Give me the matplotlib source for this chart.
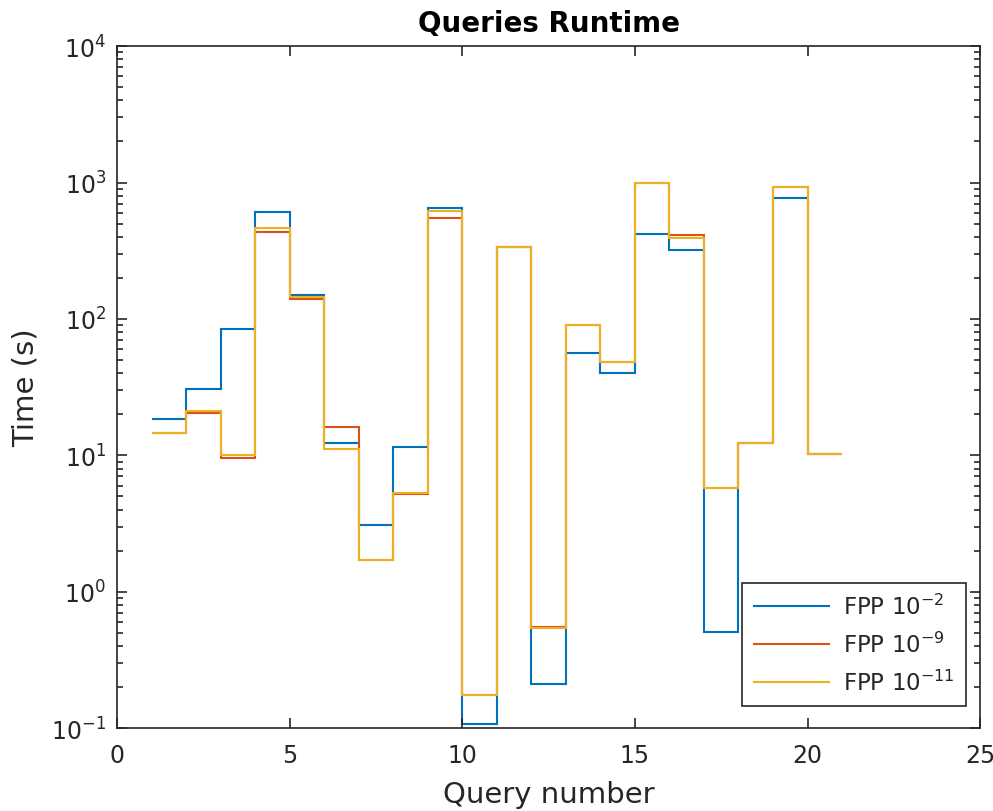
import matplotlib
matplotlib.use("Agg")
import matplotlib.pyplot as plt
import numpy as np

# query numbers (step edges) and runtimes in seconds
edges = np.arange(1, 22)
fpp_2 = [18.5, 30.6, 83.7, 609, 151, 12.3, 3.1, 11.6, 647, 0.108,
         335, 0.212, 56, 40, 422, 322, 0.508, 12.3, 767, 10.2]
fpp_9 = [14.5, 20.6, 9.5, 437, 140, 16.2, 1.7, 5.2, 551, 0.175,
         337, 0.552, 91, 48.2, 984, 415, 5.8, 12.3, 924, 10.2]
fpp_11 = [14.5, 21.2, 10.0, 465, 145.6, 11.2, 1.7, 5.3, 622, 0.175,
          337, 0.545, 91, 48.2, 984, 390, 5.8, 12.3, 924, 10.2]
labels = ["FPP 10$^{-2}$", "FPP 10$^{-9}$", "FPP 10$^{-11}$"]
colors = ["#0072BD", "#D95319", "#EDB120"]

axcol = "#262626"
fig = plt.figure(figsize=(9.93, 8.12), dpi=100)
ax = fig.add_axes([0.118, 0.102, 0.869, 0.840])

for vals, lab, c in zip([fpp_2, fpp_9, fpp_11], labels, colors):
    ax.stairs(vals, edges, baseline=None, color=c, lw=1.5, label=lab)

ax.set_yscale("log")
ax.set_xlim(0, 25)
ax.set_ylim(0.1, 1e4)
ax.set_xticks([0, 5, 10, 15, 20, 25])
ax.tick_params(which="both", direction="in", top=True, right=True,
               colors=axcol, labelsize=17, width=1.2)
ax.tick_params(which="major", length=7)
ax.tick_params(which="minor", length=4)
ax.tick_params(axis="x", pad=11)
ax.tick_params(axis="y", pad=8)
for s in ax.spines.values():
    s.set_color(axcol)
    s.set_linewidth(1.2)

ax.set_title("Queries Runtime", fontsize=20, fontweight="bold", color="black", pad=11)
ax.set_xlabel("Query number", fontsize=21, color=axcol, labelpad=9)
ax.set_ylabel("Time (s)", fontsize=21, color=axcol, labelpad=8)

leg = ax.legend(loc="lower right", fontsize=16.5, fancybox=False, framealpha=1,
                edgecolor=axcol, borderpad=0.5, handlelength=3.3,
                handletextpad=0.6, labelspacing=0.55, borderaxespad=0,
                bbox_to_anchor=(0.984, 0.032))
leg.get_frame().set_linewidth(1.2)
for t in leg.get_texts():
    t.set_color(axcol)

fig.savefig("out.png", dpi=100)
